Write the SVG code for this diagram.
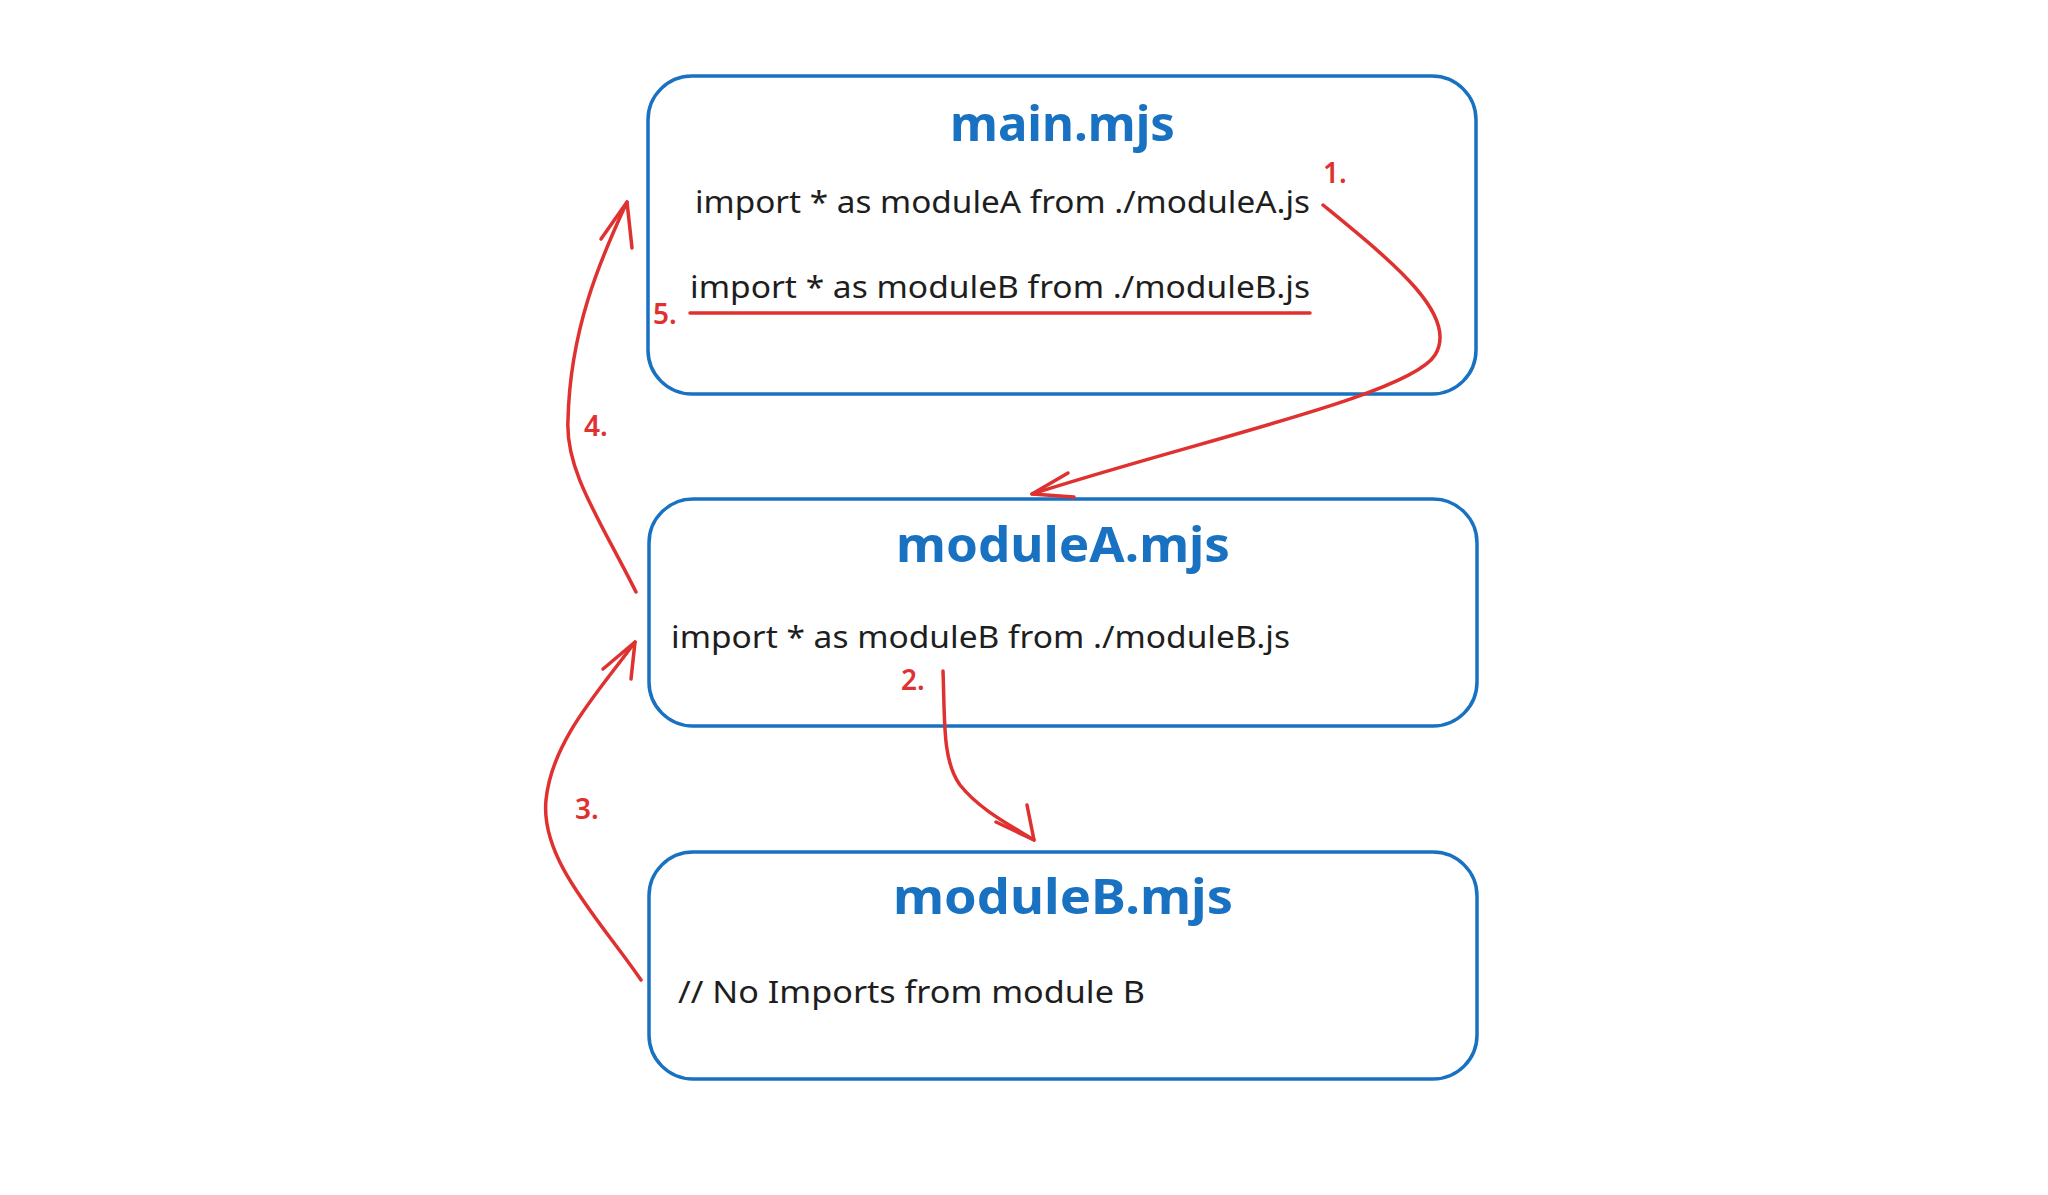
<svg xmlns="http://www.w3.org/2000/svg" width="2048" height="1195" viewBox="0 0 2048 1195">
<style>
.box{fill:#ffffff;stroke:#1971c2;stroke-width:3.5}
.title{font-family:"Noto Sans","Liberation Sans",sans-serif;font-weight:bold;font-size:48px;fill:#1971c2}
.code{font-family:"Noto Sans","Liberation Sans",sans-serif;font-size:31px;fill:#1e1e1e}
.num{font-family:"Noto Sans","Liberation Sans",sans-serif;font-size:28px;fill:#e03131;font-weight:600}
.arr{fill:none;stroke:#e03131;stroke-width:3.5;stroke-linecap:round;stroke-linejoin:round}
</style>
<rect width="2048" height="1195" fill="#ffffff"/>
<g id="main">
<rect class="box" x="648" y="76" width="828" height="318" rx="44"/>
<text class="title" x="950" y="141" textLength="225" lengthAdjust="spacingAndGlyphs">main.mjs</text>
<text class="code" x="695" y="213" textLength="615" lengthAdjust="spacingAndGlyphs">import * as moduleA from ./moduleA.js</text>
<text class="code" x="690" y="298" textLength="620" lengthAdjust="spacingAndGlyphs">import * as moduleB from ./moduleB.js</text>
</g>
<g id="moduleA">
<rect class="box" x="649" y="499" width="828" height="227" rx="44"/>
<text class="title" x="896" y="562" textLength="334" lengthAdjust="spacingAndGlyphs">moduleA.mjs</text>
<text class="code" x="671" y="648" textLength="619" lengthAdjust="spacingAndGlyphs">import * as moduleB from ./moduleB.js</text>
</g>
<g id="moduleB">
<rect class="box" x="649" y="852" width="828" height="227" rx="44"/>
<text class="title" x="893" y="914" textLength="340" lengthAdjust="spacingAndGlyphs">moduleB.mjs</text>
<text class="code" x="678" y="1003" textLength="467" lengthAdjust="spacingAndGlyphs">// No Imports from module B</text>
</g>
<g id="connectors">
<path class="arr" d="M690,313 L1310,313"/>
<path class="arr" d="M1323,205 C1390,260 1460,315 1435,355 C1410,395 1200,440 1032,494"/>
<path class="arr" d="M1068,473 L1032,494 L1074,497"/>
<path class="arr" d="M943,671 C945,720 942,760 960,785 C980,810 1010,825 1034,840"/>
<path class="arr" d="M1027,805 L1034,840 L996,822"/>
<path class="arr" d="M641,980 C600,920 540,860 546,800 C552,740 600,690 635,642"/>
<path class="arr" d="M603,669 L635,642 L631,679"/>
<path class="arr" d="M636,592 C600,520 565,470 568,420 C570,330 600,260 627,202"/>
<path class="arr" d="M601,239 L627,202 L632,248"/>
<text class="num" x="1323" y="183">1.</text>
<text class="num" x="901" y="690">2.</text>
<text class="num" x="575" y="819">3.</text>
<text class="num" x="584" y="436">4.</text>
<text class="num" x="653" y="324">5.</text>
</g>
</svg>
